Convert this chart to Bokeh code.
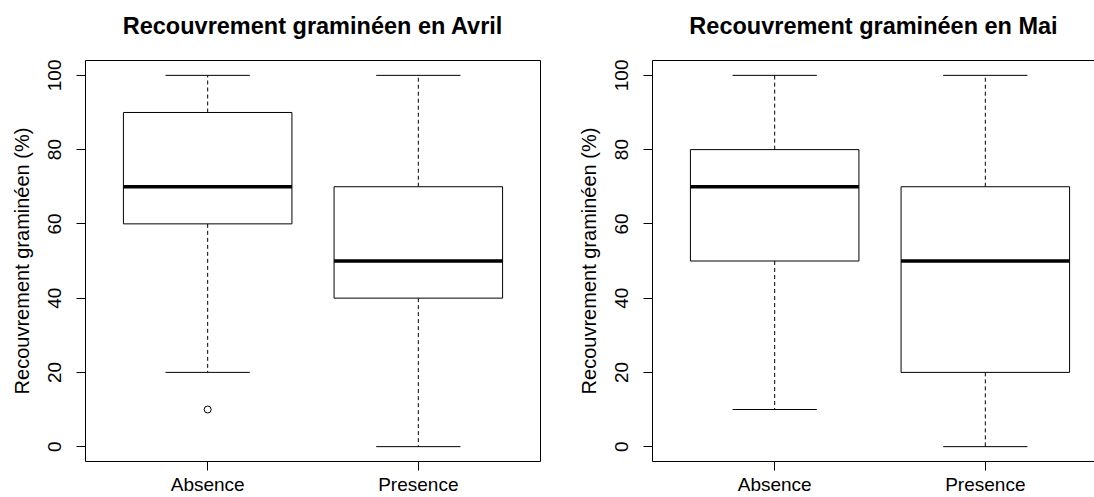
import math
from bokeh.plotting import figure
from bokeh.layouts import row
from bokeh.models import Range1d, LinearAxis, FixedTicker
from bokeh.embed import file_html
from bokeh.resources import INLINE

# ---- data ----
groups = ["Absence", "Presence"]
positions = [1, 2]
y_ticks = [0, 20, 40, 60, 80, 100]

avril_low = [20, 0]
avril_q1 = [60, 40]
avril_med = [70, 50]
avril_q3 = [90, 70]
avril_high = [100, 100]
avril_out_x = [1]
avril_out_y = [10]

mai_low = [10, 0]
mai_q1 = [50, 20]
mai_med = [70, 50]
mai_q3 = [80, 70]
mai_high = [100, 100]
mai_out_x = []
mai_out_y = []

FONT = "Liberation Sans"
BOXW = 0.4
CAPW = 0.2
PX_PER_UNIT = 455 / 2.16


def make_panel(title, low, q1, med, q3, high, out_x, out_y, left_border, right_border, frame_w, outline):
    x_end = 0.42 + frame_w / PX_PER_UNIT
    p = figure(output_backend="svg", toolbar_location=None,
               frame_width=frame_w, frame_height=401,
               min_border_left=left_border, min_border_right=right_border,
               min_border_top=60, min_border_bottom=36,
               x_range=Range1d(0.42, x_end), y_range=Range1d(-4, 104))
    p.background_fill_color = "white"
    p.border_fill_color = "white"
    p.xgrid.visible = False
    p.ygrid.visible = False
    if outline:
        p.outline_line_color = "black"
        p.outline_line_alpha = 1.0
        p.outline_line_width = 1
    else:
        p.outline_line_color = None

    # whiskers
    p.segment(x0=positions, y0=q3, x1=positions, y1=high, line_color="black", line_width=1, line_dash="4 3")
    p.segment(x0=positions, y0=q1, x1=positions, y1=low, line_color="black", line_width=1, line_dash="4 3")
    # caps
    lx = [x - CAPW for x in positions]
    rx = [x + CAPW for x in positions]
    p.segment(x0=lx, y0=high, x1=rx, y1=high, line_color="black", line_width=1)
    p.segment(x0=lx, y0=low, x1=rx, y1=low, line_color="black", line_width=1)
    # boxes
    p.quad(left=[x - BOXW for x in positions], right=[x + BOXW for x in positions],
           bottom=q1, top=q3, fill_color="white", line_color="black", line_width=1)
    # medians
    p.segment(x0=[x - BOXW for x in positions], y0=med, x1=[x + BOXW for x in positions], y1=med,
              line_color="black", line_width=3.5)
    # outliers
    if out_x:
        p.scatter(x=out_x, y=out_y, marker="circle", size=7, fill_color=None,
                  line_color="black", line_width=1)

    # axes
    for ax in (p.xaxis[0], p.yaxis[0]):
        ax.major_label_text_font = FONT
        ax.major_label_text_font_size = "19px"
        ax.major_label_text_color = "black"
        ax.axis_label_text_font = FONT
        ax.axis_label_text_font_size = "20px"
        ax.axis_label_text_font_style = "normal"
        ax.axis_label_text_color = "black"
        ax.major_tick_line_color = "black"
        ax.major_tick_in = 0
        ax.major_tick_out = 9
        ax.minor_tick_line_color = None
        ax.axis_line_color = None if outline else "black"

    p.xaxis.ticker = FixedTicker(ticks=positions)
    p.xaxis.major_label_overrides = {pos: g for pos, g in zip(positions, groups)}
    p.xaxis.major_label_standoff = 3

    p.yaxis.ticker = FixedTicker(ticks=y_ticks)
    p.yaxis.major_label_orientation = "parallel"
    p.yaxis.major_label_standoff = 15
    p.yaxis.axis_label = "Recouvrement graminéen (%)"
    p.yaxis.axis_label_standoff = 13

    # top axis: carries the top frame line (right panel) and the bold main title
    top = LinearAxis(ticker=FixedTicker(ticks=[]),
                     major_label_text_font_size="0px", major_label_standoff=0,
                     major_tick_out=0, major_tick_in=0,
                     major_tick_line_color=None, minor_tick_line_color=None,
                     axis_line_color=None if outline else "black",
                     axis_label=title, axis_label_standoff=22,
                     axis_label_text_font=FONT, axis_label_text_font_size="23.5px",
                     axis_label_text_font_style="bold", axis_label_text_color="black")
    p.add_layout(top, "above")
    return p


p1 = make_panel("Recouvrement graminéen en Avril", avril_low, avril_q1, avril_med, avril_q3, avril_high,
                avril_out_x, avril_out_y, 85, 7, 455, True)
p2 = make_panel("Recouvrement graminéen en Mai", mai_low, mai_q1, mai_med, mai_q3, mai_high,
                mai_out_x, mai_out_y, 105, 0, 442, False)

layout = row(p1, p2, spacing=0)
open("out.html", "w").write(file_html(layout, INLINE))
